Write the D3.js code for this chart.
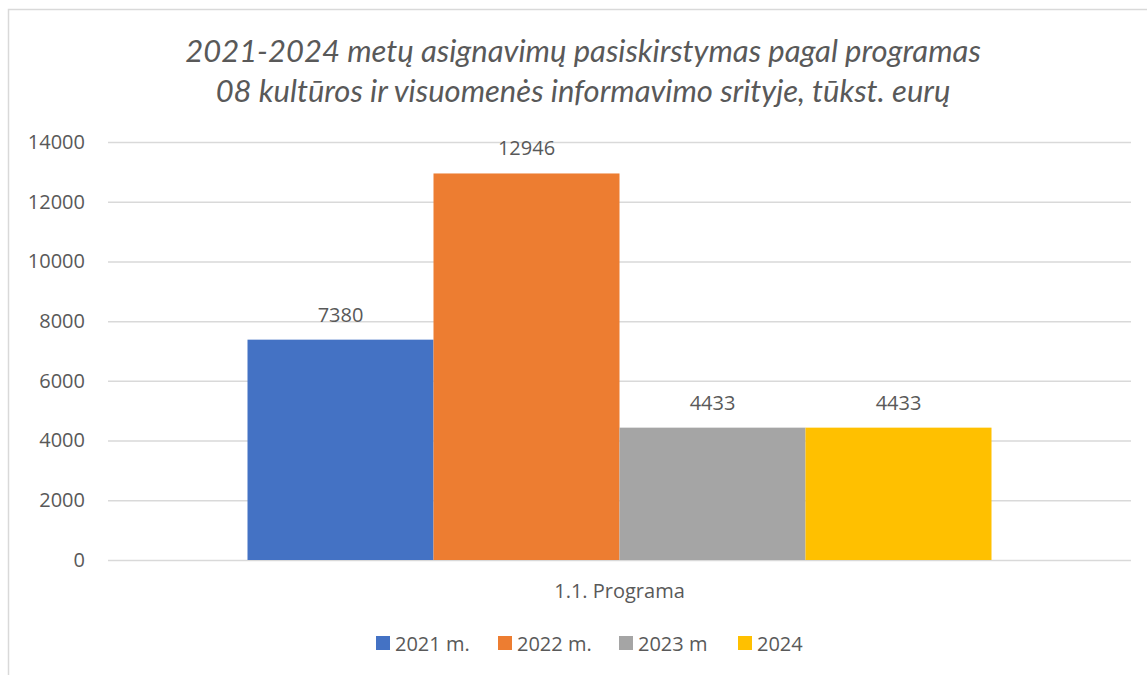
<!DOCTYPE html>
<html>
<head>
<meta charset="utf-8">
<script src="https://cdn.jsdelivr.net/npm/d3@7"></script>
<style>
  body { margin: 0; background: #fff; }
  text { fill: #595959; }
</style>
</head>
<body>
<svg id="chart"></svg>
<script>
// Duomenys
const categories = ["1.1. Programa"];
const seriesNames = ["2021 m.", "2022 m.", "2023 m", "2024"];
const seriesValues = [7380, 12946, 4433, 4433];
const seriesColors = ["#4472c4", "#ed7d31", "#a5a5a5", "#ffc000"];
const yTicks = [0, 2000, 4000, 6000, 8000, 10000, 12000, 14000];
const titleLines = [
    "2021-2024 metų asignavimų pasiskirstymas pagal programas",
    "08 kultūros ir visuomenės informavimo srityje, tūkst. eurų"
];

const width = 1147;
const height = 675;
const margin = { top: 142, right: 16, bottom: 115, left: 108 };

const svg = d3.select("#chart")
    .attr("width", width)
    .attr("height", height);

// Rėmelis
svg.append("path")
    .attr("d", `M8.5,${height} V9.5 H${width}`)
    .attr("fill", "none")
    .attr("stroke", "#d9d9d9")
    .attr("stroke-width", 1.5);

// Pavadinimas
svg.append("text")
    .attr("x", 583)
    .attr("y", 62)
    .attr("text-anchor", "middle")
    .style("font-family", "Lato, 'Open Sans', sans-serif")
    .style("font-style", "italic")
    .style("font-size", "31px")
    .selectAll("tspan")
    .data(titleLines)
    .enter()
    .append("tspan")
    .attr("x", 583)
    .attr("dy", (d, i) => i === 0 ? 0 : 40)
    .text(d => d);

const x = d3.scaleBand()
    .domain(categories)
    .range([margin.left, width - margin.right]);

const bars = d3.scaleBand()
    .domain(seriesNames)
    .range([0, x.bandwidth()])
    .paddingOuter(0.75)
    .paddingInner(0);

const y = d3.scaleLinear()
    .domain([0, 14000])
    .range([height - margin.bottom, margin.top]);

// Tinklelis
svg.append("g")
    .attr("transform", `translate(${margin.left},0)`)
    .call(d3.axisLeft(y)
        .tickValues(yTicks)
        .tickSize(-(width - margin.left - margin.right))
        .tickPadding(23)
        .tickFormat(d3.format("d")))
    .call(g => g.select(".domain").remove())
    .call(g => g.selectAll(".tick line").attr("stroke", "#d9d9d9").attr("stroke-width", 1.5))
    .call(g => g.selectAll(".tick text")
        .style("font-family", "'Open Sans', sans-serif")
        .style("font-size", "20px")
        .attr("fill", "#595959"));

// Stulpeliai
const data = seriesNames.map((name, i) => ({ name, value: seriesValues[i], color: seriesColors[i] }));

const grp = svg.append("g")
    .attr("transform", `translate(${x(categories[0])},0)`);

grp.selectAll("rect")
    .data(data)
    .enter()
    .append("rect")
    .attr("x", d => bars(d.name))
    .attr("y", d => y(d.value))
    .attr("width", bars.bandwidth())
    .attr("height", d => y(0) - y(d.value))
    .attr("fill", d => d.color);

grp.selectAll(".val")
    .data(data)
    .enter()
    .append("text")
    .attr("class", "val")
    .attr("x", d => bars(d.name) + bars.bandwidth() / 2)
    .attr("y", d => y(d.value) - 18)
    .attr("text-anchor", "middle")
    .style("font-family", "'Open Sans', sans-serif")
    .style("font-size", "20px")
    .text(d => d.value);

// Kategorijos žymė
svg.append("text")
    .attr("x", x(categories[0]) + x.bandwidth() / 2)
    .attr("y", 598)
    .attr("text-anchor", "middle")
    .style("font-family", "'Open Sans', sans-serif")
    .style("font-size", "20px")
    .text(categories[0]);

// Legenda
const legendX = [376, 498, 619, 738];
const legend = svg.append("g");
data.forEach((d, i) => {
    legend.append("rect")
        .attr("x", legendX[i])
        .attr("y", 636)
        .attr("width", 14)
        .attr("height", 14)
        .attr("fill", d.color);
    legend.append("text")
        .attr("x", legendX[i] + 19)
        .attr("y", 651)
        .style("font-family", "'Open Sans', sans-serif")
        .style("font-size", "20px")
        .text(d.name);
});
</script>
</body>
</html>
